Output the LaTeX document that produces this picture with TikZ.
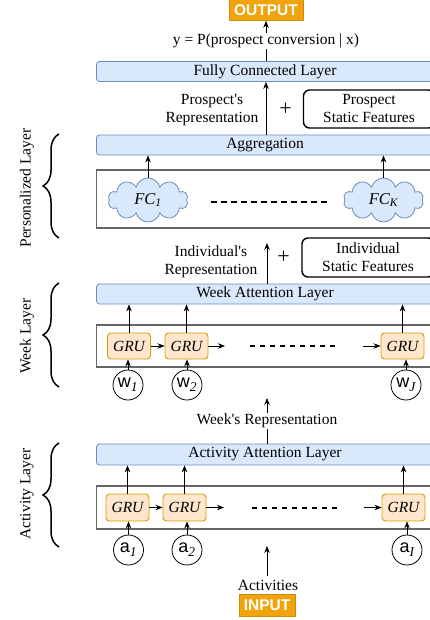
\documentclass[tikz,border=0pt]{standalone}
\usepackage{fontspec}
\setmainfont{Liberation Serif}
\setsansfont{Liberation Sans}
\newfontfamily\plainserif{Liberation Serif}
\usetikzlibrary{arrows.meta,positioning,shapes.symbols,decorations.pathreplacing}

\definecolor{bluefill}{HTML}{DAE8FC}
\definecolor{blueedge}{HTML}{6C8EBF}
\definecolor{grufill}{HTML}{FFE6CC}
\definecolor{gruedge}{HTML}{D79B00}
\definecolor{ioorange}{HTML}{F0A30A}
\definecolor{boxgray}{HTML}{666666}

\tikzset{
  layerbox/.style={draw=blueedge, fill=bluefill, line width=0.8pt, rounded corners=3pt,
    minimum width=337pt, minimum height=20pt, inner sep=0pt},
  groupbox/.style={draw=boxgray, line width=1.3pt, minimum width=337pt, inner sep=0pt},
  grubox/.style={draw=gruedge, fill=grufill, line width=0.9pt, rounded corners=3.5pt,
    minimum width=43pt, minimum height=26pt, inner sep=0pt, font=\fontsize{15.5}{18}\selectfont\itshape},
  seqnode/.style={circle, draw, line width=0.8pt, minimum size=30pt, inner sep=0pt},
  featbox/.style={draw, line width=1.4pt, rounded corners=6pt, minimum width=131pt,
    minimum height=38pt, inner sep=0pt, align=center},
  fccloud/.style={cloud, cloud puffs=10, aspect=1.9, draw=blueedge, fill=bluefill,
    line width=0.8pt, minimum width=80pt, minimum height=44pt, inner sep=0pt,
    font=\fontsize{16.5}{18}\selectfont\itshape},
  iobox/.style={fill=ioorange, draw=ioorange!85!black, line width=0.6pt, text=white,
    font=\fontsize{15.5}{18}\selectfont\sffamily\bfseries, inner sep=0pt, minimum height=21pt},
  arr/.style={-{Stealth[length=7pt,width=5.5pt]}, line width=0.8pt},
  dashline/.style={dash pattern=on 6pt off 4pt, line width=1.4pt},
  sidebrace/.style={decorate, decoration={brace, amplitude=16pt}, line width=1.5pt},
  plus/.style={font=\fontsize{22}{22}\selectfont},
}

\newcommand{\seqlabel}[2]{{\fontsize{18}{18}\selectfont\sffamily #1}\textsubscript{\fontsize{13.5}{13.5}\selectfont\itshape #2}}
\newcommand{\sq}{{\plainserif'}}

\begin{document}
\begin{tikzpicture}[x=1pt, y=-1pt, font=\fontsize{15.5}{18}\selectfont]
\useasboundingbox (0,0) rectangle (430,620);
\clip (0,0) rectangle (430,620);

% output side
\node[iobox, minimum width=74pt] (out) at (266,10) {OUTPUT};
\node[layerbox] (fcl) at (265,71.5) {Fully Connected Layer};
\draw[arr] (fcl.north -| out) -- (out.south)
  node[midway, fill=white, inner sep=1pt] (prob) {y = P(prospect conversion | x)};

% personalized layer
\node[layerbox] (agg) at (265,145) {Aggregation};
\node[featbox] (pstat) at (369,109) {Prospect\\Static Features};
\draw[arr] (agg.north -| out) -- (fcl.south -| out);
\node[anchor=east, align=center] (prep) at (262,110) {Prospect\sq s\\Representation};
\node[plus] (pplus) at (285.5,109) {+};
\node[groupbox, minimum height=58pt] (pbox) at (265,199) {};
\node[fccloud] (fc1) at (148,200) {FC\textsubscript{\itshape 1}};
\node[fccloud] (fck) at (383.5,200) {FC\textsubscript{\itshape K}};
\draw[dashline] (211,202) -- (327,202);
\draw[arr] (fc1.north) -- (fc1.north |- agg.south);
\draw[arr] (fck.north) -- (fck.north |- agg.south);

% week layer
\node[featbox, minimum width=132pt, minimum height=39pt] (istat) at (368,257.5) {Individual\\Static Features};
\node[layerbox] (watt) at (265,294) {Week Attention Layer};
\coordinate (itip) at (267,243);
\draw[arr] (watt.north -| itip) -- (itip);
\node[anchor=east, align=center] (irep) at (261,261.5) {Individual\sq s\\Representation};
\node[plus] (iplus) at (283.5,257) {+};
\node[groupbox, minimum height=42pt] (wbox) at (265,346) {};
\node[grubox] (wg1) at (129,346) {GRU};
\node[grubox] (wg2) at (186.5,346) {GRU};
\node[grubox] (wg3) at (402.5,346) {GRU};
\coordinate (wgo) at (225,346);
\coordinate (wgi) at (363,346);
\draw[arr] (wg1.east) -- (wg2.west);
\draw[arr] (wg2.east) -- (wgo);
\draw[arr] (wgi) -- (wg3.west);
\draw[dashline, dash pattern=on 5pt off 5pt] (250,346) -- (338,346);
\foreach \g in {wg1,wg2,wg3}
  \draw[arr] (\g.north) -- (\g.north |- watt.south);
\node[seqnode] (w1) at (128,385) {\seqlabel{w}{1}};
\node[seqnode] (w2) at (187,385) {\seqlabel{w}{2}};
\node[seqnode] (wj) at (406,385) {\seqlabel{w}{J}};
\draw[arr] (w1.north) -- (w1.north |- wg1.south);
\draw[arr] (w2.north) -- (w2.north |- wg2.south);
\draw[arr] (wj.north) -- (wj.north |- wg3.south);

% activity layer
\node[layerbox, minimum height=21pt] (aatt) at (265,454.5) {Activity Attention Layer};
\coordinate (wtip) at (267,398);
\draw[arr] (aatt.north -| wtip) -- (wtip)
  node[midway, fill=white, inner sep=1pt] (wrep) {Week\sq s Representation};
\node[groupbox, minimum height=43pt] (abox) at (265,507.5) {};
\node[grubox, minimum height=27pt] (ag1) at (127.5,507.5) {GRU};
\node[grubox, minimum height=27pt] (ag2) at (184.5,507.5) {GRU};
\node[grubox, minimum height=27pt] (ag3) at (403.5,507.5) {GRU};
\coordinate (ago) at (224,507.5);
\coordinate (agi) at (364,507.5);
\draw[arr] (ag1.east) -- (ag2.west);
\draw[arr] (ag2.east) -- (ago);
\draw[arr] (agi) -- (ag3.west);
\draw[dashline, dash pattern=on 5pt off 5pt] (252,508) -- (339,508);
\foreach \g in {ag1,ag2,ag3}
  \draw[arr] (\g.north) -- (\g.north |- aatt.south);
\node[seqnode] (a1) at (128.5,550) {\seqlabel{a}{1}};
\node[seqnode] (a2) at (187,550) {\seqlabel{a}{2}};
\node[seqnode] (ai) at (407,550) {\seqlabel{a}{I}};
\draw[arr] (a1.north) -- (a1.north |- ag1.south);
\draw[arr] (a2.north) -- (a2.north |- ag2.south);
\draw[arr] (ai.north) -- (ai.north |- ag3.south);

% input side
\node (acts) at (268,585) {Activities};
\node[iobox, minimum width=56pt, minimum height=22pt] (in) at (267,605) {INPUT};
\coordinate (atip) at (267,546);
\draw[arr] (acts.north -| atip) -- (atip);

% left side groups
\draw[sidebrace] (59,238) -- (59,134);
\node[rotate=90] (plab) at (27,188) {Personalized Layer};
\draw[sidebrace] (59,387) -- (59,283);
\node[rotate=90] (wlab) at (27,336) {Week Layer};
\draw[sidebrace] (59,547) -- (59,443);
\node[rotate=90] (alab) at (27,494) {Activity Layer};
\end{tikzpicture}
\end{document}
